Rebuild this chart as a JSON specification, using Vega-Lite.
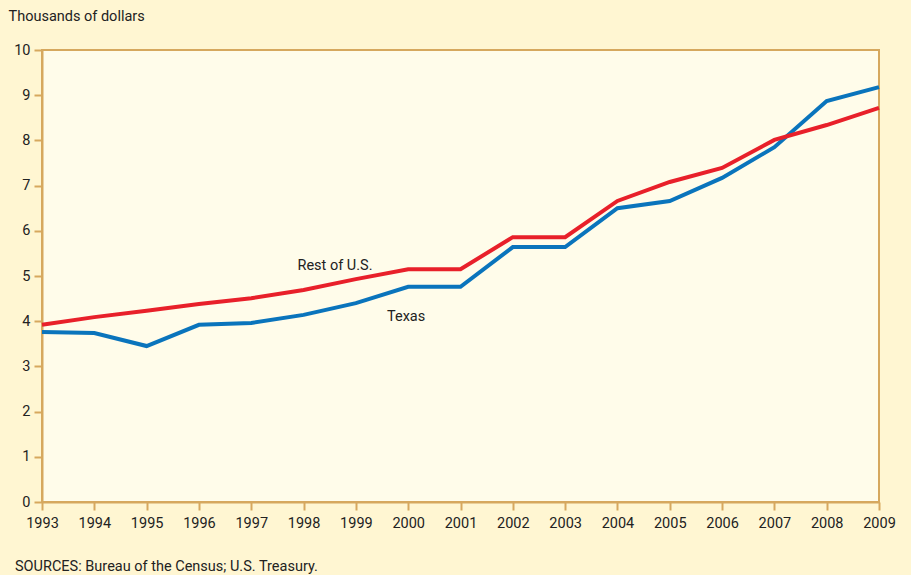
{
  "$schema": "https://vega.github.io/schema/vega-lite/v6.json",
  "width": 837,
  "height": 452,
  "autosize": {"type": "none"},
  "padding": {"left": 42, "top": 50, "right": 32, "bottom": 73},
  "background": "#FFF6D2",
  "config": {
    "font": "Roboto",
    "view": {"fill": "#FFFCEA", "stroke": "#D6A85E", "strokeWidth": 2},
    "axis": {
      "domainColor": "#D6A85E", "domainWidth": 2, "tickColor": "#D6A85E", "tickWidth": 2,
      "tickSize": 8, "labelFont": "Roboto", "labelFontSize": 14.5, "labelColor": "#222222",
      "grid": false
    }
  },
  "title": {
    "text": "SOURCES: Bureau of the Census; U.S. Treasury.",
    "orient": "bottom", "anchor": "start", "frame": "group", "dx": -27, "offset": 30,
    "font": "Roboto", "fontSize": 14.5, "fontWeight": "normal", "color": "#222222"
  },
  "data": {"values": [
    {"year": 1993, "series": "Texas", "value": 3.76},
    {"year": 1994, "series": "Texas", "value": 3.74},
    {"year": 1995, "series": "Texas", "value": 3.45},
    {"year": 1996, "series": "Texas", "value": 3.92},
    {"year": 1997, "series": "Texas", "value": 3.96},
    {"year": 1998, "series": "Texas", "value": 4.14},
    {"year": 1999, "series": "Texas", "value": 4.40},
    {"year": 2000, "series": "Texas", "value": 4.76},
    {"year": 2001, "series": "Texas", "value": 4.76},
    {"year": 2002, "series": "Texas", "value": 5.64},
    {"year": 2003, "series": "Texas", "value": 5.64},
    {"year": 2004, "series": "Texas", "value": 6.50},
    {"year": 2005, "series": "Texas", "value": 6.66},
    {"year": 2006, "series": "Texas", "value": 7.17},
    {"year": 2007, "series": "Texas", "value": 7.85},
    {"year": 2008, "series": "Texas", "value": 8.87},
    {"year": 2009, "series": "Texas", "value": 9.18},
    {"year": 1993, "series": "Rest of U.S.", "value": 3.92},
    {"year": 1994, "series": "Rest of U.S.", "value": 4.09},
    {"year": 1995, "series": "Rest of U.S.", "value": 4.23},
    {"year": 1996, "series": "Rest of U.S.", "value": 4.38},
    {"year": 1997, "series": "Rest of U.S.", "value": 4.51},
    {"year": 1998, "series": "Rest of U.S.", "value": 4.69},
    {"year": 1999, "series": "Rest of U.S.", "value": 4.93},
    {"year": 2000, "series": "Rest of U.S.", "value": 5.15},
    {"year": 2001, "series": "Rest of U.S.", "value": 5.15},
    {"year": 2002, "series": "Rest of U.S.", "value": 5.86},
    {"year": 2003, "series": "Rest of U.S.", "value": 5.86},
    {"year": 2004, "series": "Rest of U.S.", "value": 6.66},
    {"year": 2005, "series": "Rest of U.S.", "value": 7.08},
    {"year": 2006, "series": "Rest of U.S.", "value": 7.39},
    {"year": 2007, "series": "Rest of U.S.", "value": 8.01},
    {"year": 2008, "series": "Rest of U.S.", "value": 8.34},
    {"year": 2009, "series": "Rest of U.S.", "value": 8.72}
  ]},
  "layer": [
    {
      "mark": {"type": "line", "strokeWidth": 4, "strokeJoin": "miter"},
      "encoding": {
        "x": {"field": "year", "type": "quantitative",
          "scale": {"domain": [1993, 2009], "nice": false, "zero": false},
          "axis": {"title": null, "format": "d", "values": [1993,1994,1995,1996,1997,1998,1999,2000,2001,2002,2003,2004,2005,2006,2007,2008,2009], "labelPadding": 6, "labelFlush": false}},
        "y": {"field": "value", "type": "quantitative",
          "scale": {"domain": [0, 10], "nice": false},
          "axis": {"values": [0,1,2,3,4,5,6,7,8,9,10], "labelPadding": 4,
            "title": "Thousands of dollars", "titleAngle": 0, "titleX": -34, "titleY": -34,
            "titleAlign": "left", "titleBaseline": "middle", "titleFont": "Roboto",
            "titleFontSize": 14.5, "titleFontWeight": "normal", "titleColor": "#222222"}},
        "color": {"field": "series", "type": "nominal",
          "scale": {"domain": ["Rest of U.S.", "Texas"], "range": ["#E8202A", "#0A74BC"]},
          "legend": null}
      }
    },
    {
      "data": {"values": [
        {"year": 1998.6, "value": 5.22, "label": "Rest of U.S."},
        {"year": 1999.96, "value": 4.09, "label": "Texas"}
      ]},
      "mark": {"type": "text", "font": "Roboto", "fontSize": 14.5, "color": "#222222", "baseline": "middle", "align": "center"},
      "encoding": {
        "x": {"field": "year", "type": "quantitative"},
        "y": {"field": "value", "type": "quantitative"},
        "text": {"field": "label"}
      }
    }
  ]
}
